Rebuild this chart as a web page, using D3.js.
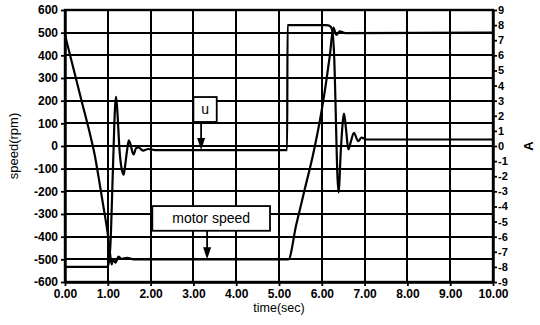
<!DOCTYPE html>
<html>
<head>
<meta charset="utf-8">
<script src="https://cdn.jsdelivr.net/npm/d3@7"></script>
<style>
  body { margin: 0; background: #fff; }
  svg { display: block; }
  text { font-family: "Liberation Sans", Arial, sans-serif; fill: #000; }
</style>
</head>
<body>
<div id="chart"></div>
<script>
// motor speed (rpm) - left axis
const speedTime = [0, 0.2, 0.4, 0.6, 0.7, 0.8, 0.9, 1.0, 1.05, 1.09, 1.13, 1.18, 1.25, 1.32, 1.45, 1.6, 5.22, 5.4, 5.6, 5.8, 6.0, 6.1, 6.19, 6.27, 6.34, 6.42, 6.55, 10];
const speedRpm = [490, 340, 190, 40, -45, -155, -270, -390, -470, -522, -500, -515, -488, -498, -493, -500, -500, -350, -192, -34, 160, 280, 402, 522, 490, 506, 498, 500];

// control current u (A) - right axis
const uTime = [0, 0.99, 1.03, 1.06, 1.12, 1.17, 1.19, 1.21, 1.28, 1.35, 1.37, 1.39, 1.45, 1.49, 1.52, 1.6, 1.66, 1.72, 1.82, 1.95, 2.1, 5.19, 5.2, 6.1, 6.18, 6.24, 6.28, 6.39, 6.45, 6.52, 6.57, 6.62, 6.68, 6.75, 6.85, 6.93, 7.05, 10];
const uAmp = [-8, -8, -7.6, -6.6, -1.5, 2.6, 3.25, 2.8, -0.5, -1.8, -1.9, -1.6, -0.3, 0.38, 0.2, -0.56, -0.15, -0.1, -0.3, -0.2, -0.27, -0.27, 8, 8, 7.95, 7.7, 6.5, -3.07, 0, 2.14, 1, -0.23, 0.3, 0.87, 0.32, 0.56, 0.43, 0.43];

const timeTicks = d3.range(0, 11, 1);
const rpmTicks = d3.range(-600, 601, 100);
const ampTicks = d3.range(-9, 10, 1);

const margin = { top: 10, right: 47, bottom: 43, left: 65 };
const width = 540 - margin.left - margin.right;
const height = 325 - margin.top - margin.bottom;

const svg = d3.select("#chart")
  .append("svg")
  .attr("width", 540)
  .attr("height", 325)
  .append("g")
  .attr("transform", "translate(" + margin.left + "," + margin.top + ")");

const x = d3.scaleLinear().domain([0, 10]).range([0, width]);
const yL = d3.scaleLinear().domain([-600, 600]).range([height, 0]);
const yR = d3.scaleLinear().domain([-9, 9]).range([height, 0]);

// grid
svg.selectAll("line.vgrid")
  .data(timeTicks.slice(1, -1))
  .enter()
  .append("line")
  .attr("x1", d => Math.round(x(d))).attr("x2", d => Math.round(x(d)))
  .attr("y1", 0).attr("y2", height)
  .attr("stroke", "#000").attr("stroke-width", 2)
  .attr("shape-rendering", "crispEdges");
svg.selectAll("line.hgrid")
  .data(rpmTicks.slice(1, -1))
  .enter()
  .append("line")
  .attr("x1", 0).attr("x2", width)
  .attr("y1", d => Math.round(yL(d))).attr("y2", d => Math.round(yL(d)))
  .attr("stroke", "#000").attr("stroke-width", 2)
  .attr("shape-rendering", "crispEdges");

// frame
svg.append("rect")
  .attr("width", width).attr("height", height)
  .attr("fill", "none").attr("stroke", "#000").attr("stroke-width", 2.4);

// axes
const gx = svg.append("g")
  .attr("transform", "translate(0," + height + ")")
  .call(d3.axisBottom(x).tickValues(timeTicks).tickSize(4).tickSizeOuter(0).tickPadding(3).tickFormat(d3.format(".2f")));
const gl = svg.append("g")
  .call(d3.axisLeft(yL).tickValues(rpmTicks).tickSize(4).tickSizeOuter(0).tickPadding(3).tickFormat(d => String(d)));
const gr = svg.append("g")
  .attr("transform", "translate(" + width + ",0)")
  .call(d3.axisRight(yR).tickValues(ampTicks).tickSize(4).tickSizeOuter(0).tickPadding(1).tickFormat(d => String(d)));
[gx, gl, gr].forEach(g => {
  g.select(".domain").attr("stroke-width", 2.4);
  g.selectAll(".tick line").attr("stroke-width", 1.8);
  g.selectAll("text")
    .style("font-size", "12px")
    .style("font-weight", "bold")
    .style("font-family", "'Liberation Sans', Arial, sans-serif");
});
gr.selectAll("text").style("font-size", "11px");

// curves
const speedData = speedTime.map((t, i) => ({ t: t, v: speedRpm[i] }));
const uData = uTime.map((t, i) => ({ t: t, v: uAmp[i] }));

svg.append("path")
  .datum(speedData)
  .attr("fill", "none").attr("stroke", "#000").attr("stroke-width", 2.2)
  .attr("d", d3.line().x(d => x(d.t)).y(d => yL(d.v)).curve(d3.curveMonotoneX));
svg.append("path")
  .datum(uData)
  .attr("fill", "none").attr("stroke", "#000").attr("stroke-width", 2.2)
  .attr("d", d3.line().x(d => x(d.t)).y(d => yR(d.v)).curve(d3.curveMonotoneX));

// annotation boxes with arrows
const notes = [
  { label: "u", t0: 3.0, t1: 3.545, top: 216, bottom: 106, arrowT: 3.18, tipA: -0.27 },
  { label: "motor speed", t0: 2.04, t1: 4.79, top: -265, bottom: -374, arrowT: 3.32, tipRpm: -500 }
];
notes.forEach(n => {
  const bx = x(n.t0), bw = x(n.t1) - x(n.t0);
  const by = yL(n.top), bh = yL(n.bottom) - yL(n.top);
  const ax = x(n.arrowT);
  const tip = n.tipA !== undefined ? yR(n.tipA) : yL(n.tipRpm);
  svg.append("rect")
    .attr("x", bx).attr("y", by).attr("width", bw).attr("height", bh)
    .attr("fill", "#fff").attr("stroke", "#000").attr("stroke-width", 1.8);
  svg.append("text")
    .attr("x", bx + bw / 2).attr("y", by + bh / 2)
    .attr("dy", "0.35em")
    .attr("text-anchor", "middle")
    .style("font-size", "14px")
    .text(n.label);
  svg.append("line")
    .attr("x1", ax).attr("x2", ax)
    .attr("y1", by + bh).attr("y2", tip - 10)
    .attr("stroke", "#000").attr("stroke-width", 1.8);
  svg.append("path")
    .attr("d", "M" + (ax - 4) + "," + (tip - 12) + "L" + (ax + 4) + "," + (tip - 12) + "L" + ax + "," + tip + "Z")
    .attr("fill", "#000");
});

// axis titles
svg.append("text")
  .attr("transform", "translate(" + (-47) + "," + (height / 2) + ") rotate(-90)")
  .attr("text-anchor", "middle")
  .style("font-size", "13px")
  .text("speed(rpm)");
svg.append("text")
  .attr("x", width / 2)
  .attr("y", height + 30)
  .attr("text-anchor", "middle")
  .style("font-size", "12.5px")
  .text("time(sec)");
svg.append("text")
  .attr("transform", "translate(" + (width + 40) + "," + yR(0) + ") rotate(-90)")
  .attr("text-anchor", "middle")
  .style("font-size", "13px")
  .style("font-weight", "bold")
  .text("A");
</script>
</body>
</html>
